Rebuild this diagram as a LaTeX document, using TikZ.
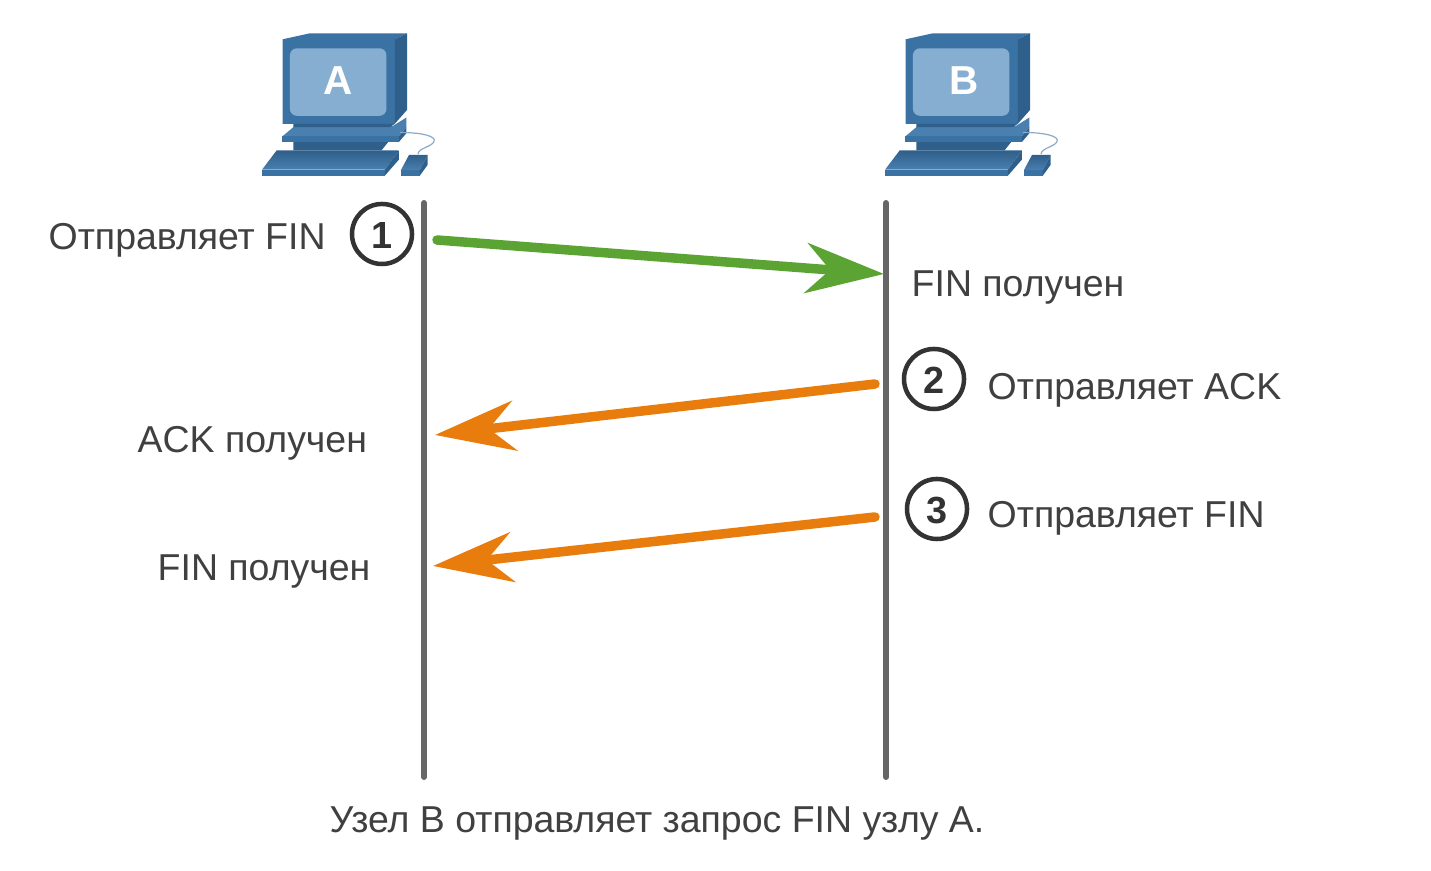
\documentclass[tikz,border=0pt]{standalone}
\usepackage{fontspec}
\setmainfont{Liberation Sans}
\usetikzlibrary{arrows.meta}
\definecolor{pcfront}{HTML}{3B72A4}
\definecolor{pcdark}{HTML}{2F5F8B}
\definecolor{pcplate}{HTML}{4A80AF}
\definecolor{pcscreen}{HTML}{86AED1}
\definecolor{inktext}{HTML}{404040}
\definecolor{sendgreen}{HTML}{5BA332}
\definecolor{sendorange}{HTML}{E87D0D}
\tikzset{
	lifeline/.style={line width=0.6mm, color=black!60, line cap=round},
	greenmsg/.style={line width=0.95mm, color=sendgreen, line cap=round, -{Stealth[length=0.78cm,width=0.5cm,inset=0.24cm]}},
	orangemsg/.style={line width=0.95mm, color=sendorange, line cap=round, -{Stealth[length=0.8cm,width=0.5cm,inset=0.26cm]}},
	msgtext/.style={color=inktext, inner sep=0pt, font=\fontsize{10.65}{12}\selectfont},
	stepmark/.style={circle, draw=black!80, line width=0.45mm, minimum size=0.6cm, inner sep=0pt, text=black!80, text height=8.4pt, text depth=0pt, font=\fontsize{10.75}{12}\selectfont\bfseries},
	pics/pccomp/.style={code={
		\begin{scope}[x=0.00333cm, y=-0.00333cm]
			%%%%% monitor %%%%%
			\fill[pcfront] (98, 58) -- (180, 40) -- (472, 40) -- (435, 58) -- (435, 312) -- (98, 312) -- cycle;
			\fill[pcdark] (435, 58) -- (472, 40) -- (472, 270) -- (435, 312) -- cycle;
			\fill[pcscreen, rounded corners=0.07cm] (120, 85) rectangle (410, 288);
			%%%%% stand %%%%%
			\fill[pcplate] (97, 350) -- (135, 318) -- (430, 318) -- (470, 293) -- (470, 322) -- (447, 350) -- cycle;
			\fill[pcdark] (130, 312) -- (435, 312) -- (420, 322) -- (130, 322) -- cycle;
			\fill[pcfront] (97, 350) rectangle (447, 367);
			\fill[pcdark] (447, 350) -- (470, 322) -- (470, 340) -- (447, 367) -- cycle;
			\fill[pcdark] (130, 367) -- (415, 367) -- (395, 392) -- (130, 392) -- cycle;
			%%%%% keyboard %%%%%
			\shade[top color=pcdark, bottom color=pcplate] (36, 450) -- (80, 392) -- (447, 392) -- (405, 450) -- cycle;
			\fill[pcfront] (36, 450) rectangle (405, 468);
			\fill[pcdark] (405, 450) -- (447, 392) -- (447, 420) -- (405, 468) -- cycle;
			%%%%% mouse %%%%%
			\draw[pcfront!60!white, line width=0.12mm] (450, 338) .. controls (520, 338) and (560, 350) .. (553, 365) .. controls (545, 382) and (505, 385) .. (505, 403);
			\shade[top color=pcdark, bottom color=pcplate] (453, 452) -- (478, 405) -- (534, 405) -- (510, 452) -- cycle;
			\fill[pcfront] (453, 452) rectangle (510, 468);
			\fill[pcdark] (510, 452) -- (534, 405) -- (534, 435) -- (510, 468) -- cycle;
			\node[text=white, inner sep=0pt, font=\fontsize{11.5}{12}\selectfont\bfseries] (label) at (265, 183) {#1};
		\end{scope}
	}},
}
\begin{document}
\begin{tikzpicture}[x=0.01cm, y=-0.01cm]
	\useasboundingbox (0, 0) rectangle (1431, 871);
	
	\pic (hostA) at (250, 20) {pccomp=A};
	\pic (hostB) at (873, 20) {pccomp={\hspace{1.7pt}B}};
	
	%%%%% lifelines %%%%%
	\coordinate (topA) at (424, 203);
	\coordinate (botA) at (424, 777);
	\coordinate (topB) at (886, 203);
	\coordinate (botB) at (886, 777);
	\draw[lifeline] (topA) -- (botA);
	\draw[lifeline] (topB) -- (botB);
	
	%%%%% messages %%%%%
	\coordinate (finOut) at (437, 240);
	\coordinate (finIn) at (884, 274);
	\coordinate (ackOut) at (875, 384);
	\coordinate (ackIn) at (435, 435);
	\coordinate (finbOut) at (875, 517);
	\coordinate (finbIn) at (433, 566);
	\draw[greenmsg] (finOut) -- (finIn);
	\draw[orangemsg] (ackOut) -- (ackIn);
	\draw[orangemsg] (finbOut) -- (finbIn);
	
	%%%%% step marks %%%%%
	\node[stepmark] (step1) at (382, 234) {1};
	\node[stepmark] (step2) at (934, 379) {2};
	\node[stepmark] (step3) at (937, 509) {3};
	
	%%%%% texts %%%%%
	\node[msgtext, anchor=base west] (sendA) at (48, 250) {Отправляет FIN};
	\node[msgtext, anchor=base west] (gotB) at (911, 297) {FIN получен};
	\node[msgtext, anchor=base west] (sendAck) at (987, 400) {Отправляет ACK};
	\node[msgtext, anchor=base west] (gotAck) at (137, 453) {ACK получен};
	\node[msgtext, anchor=base west] (sendB) at (987, 528) {Отправляет FIN};
	\node[msgtext, anchor=base west] (gotA) at (157, 581) {FIN получен};
	\node[msgtext, anchor=base west] (caption) at (329, 833) {Узел B отправляет запрос FIN узлу A.};
\end{tikzpicture}
\end{document}
